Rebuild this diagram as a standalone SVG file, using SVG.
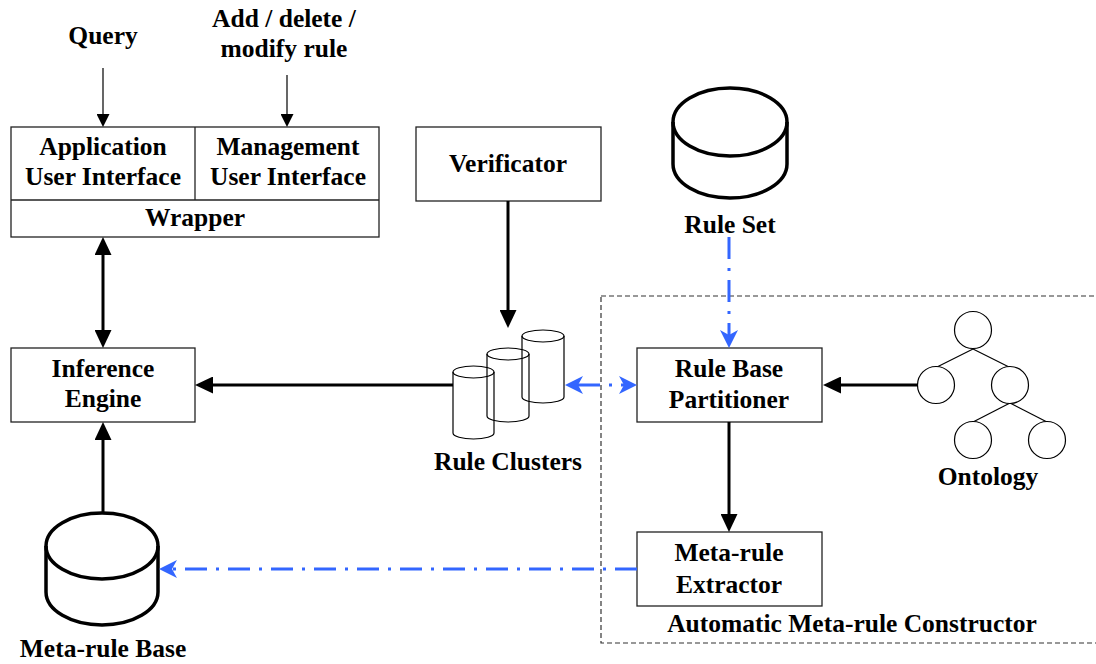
<svg xmlns="http://www.w3.org/2000/svg" width="1096" height="664" viewBox="0 0 1096 664">
  <style>
    .box { fill: #fff; stroke: #222; stroke-width: 1.3; }
    .lbl { font-family: "Liberation Serif", "Times New Roman", serif; font-weight: bold; font-size: 25.5px; fill: #000; text-anchor: middle; }
    .thin { stroke: #000; stroke-width: 1.2; fill: none; }
    .thick { stroke: #000; stroke-width: 3; fill: none; }
    .blue { stroke: #3366ff; stroke-width: 3; fill: none; stroke-dasharray: 22 9 3 9; }
    .db { fill: none; stroke: #000; stroke-width: 3.5; }
    .cl { fill: none; stroke: #000; stroke-width: 1.2; }
    .tree { fill: #fff; stroke: #000; stroke-width: 1.2; }
  </style>
  <defs>
    <marker id="ah" markerUnits="userSpaceOnUse" markerWidth="18" markerHeight="17" refX="0" refY="8.5" orient="auto-start-reverse">
      <path d="M0,0 L18,8.5 L0,17 z" fill="#000"/>
    </marker>
    <marker id="ahs" markerUnits="userSpaceOnUse" markerWidth="13" markerHeight="13" refX="0" refY="6.5" orient="auto-start-reverse">
      <path d="M0,0 L13,6.5 L0,13 z" fill="#000"/>
    </marker>
    <marker id="ahb" markerUnits="userSpaceOnUse" markerWidth="18" markerHeight="18" refX="5" refY="9" orient="auto-start-reverse">
      <path d="M0,0 L18,9 L0,18 L5,9 z" fill="#3366ff"/>
    </marker>
  </defs>

  <!-- Automatic Meta-rule Constructor boundary -->
  <g id="constructor">
    <rect x="601" y="296" width="520" height="347" fill="none" stroke="#333" stroke-width="1.2" stroke-dasharray="5 3"/>
    <text class="lbl" x="852" y="632">Automatic Meta-rule Constructor</text>
  </g>

  <!-- input labels -->
  <g id="query">
    <text class="lbl" x="103" y="44">Query</text>
  </g>
  <g id="modify">
    <text class="lbl" x="284" y="27">Add / delete /</text>
    <text class="lbl" x="284" y="57">modify rule</text>
  </g>

  <!-- user interfaces and wrapper -->
  <g id="ui">
    <rect class="box" x="11" y="127" width="368" height="110"/>
    <line x1="195" y1="127" x2="195" y2="200" stroke="#222" stroke-width="1.3"/>
    <line x1="11" y1="200" x2="379" y2="200" stroke="#222" stroke-width="1.3"/>
    <text class="lbl" x="103" y="155">Application</text>
    <text class="lbl" x="103" y="185">User Interface</text>
    <text class="lbl" x="288" y="155">Management</text>
    <text class="lbl" x="288" y="185">User Interface</text>
    <text class="lbl" x="195" y="226">Wrapper</text>
  </g>

  <g id="verificator">
    <rect class="box" x="416" y="127" width="185" height="74"/>
    <text class="lbl" x="508" y="172">Verificator</text>
  </g>

  <g id="inference">
    <rect class="box" x="11" y="348" width="184" height="74"/>
    <text class="lbl" x="103" y="377">Inference</text>
    <text class="lbl" x="103" y="407">Engine</text>
  </g>

  <g id="rule-set">
    <ellipse class="db" cx="730" cy="122" rx="57" ry="34"/>
    <path class="db" d="M673,122 L673,164 A57,34 0 0 0 787,164 L787,122"/>
    <text class="lbl" x="730" y="233">Rule Set</text>
  </g>

  <g id="rule-clusters">
    <ellipse class="cl" cx="543" cy="336" rx="21" ry="6"/>
    <path class="cl" d="M522,336 L522,397 A21,6 0 0 0 564,397 L564,336"/>
    <ellipse class="cl" cx="508" cy="354" rx="21" ry="6"/>
    <path class="cl" d="M487,354 L487,416 A21,6 0 0 0 529,416 L529,354"/>
    <ellipse class="cl" cx="473.5" cy="372" rx="20.5" ry="6"/>
    <path class="cl" d="M453,372 L453,433 A20.5,6 0 0 0 494,433 L494,372"/>
    <text class="lbl" x="508" y="470">Rule Clusters</text>
  </g>

  <g id="partitioner">
    <rect class="box" x="637" y="348" width="185" height="74"/>
    <text class="lbl" x="729" y="377">Rule Base</text>
    <text class="lbl" x="729" y="408">Partitioner</text>
  </g>

  <g id="ontology">
    <line class="thin" x1="973" y1="349" x2="937" y2="367"/>
    <line class="thin" x1="973" y1="349" x2="1009" y2="367"/>
    <line class="thin" x1="1010" y1="403" x2="973" y2="422"/>
    <line class="thin" x1="1010" y1="403" x2="1047" y2="422"/>
    <circle class="tree" cx="973" cy="330" r="18.5"/>
    <circle class="tree" cx="936" cy="385" r="18.5"/>
    <circle class="tree" cx="1010" cy="385" r="18.5"/>
    <circle class="tree" cx="973" cy="440" r="18.5"/>
    <circle class="tree" cx="1047" cy="440" r="18.5"/>
    <text class="lbl" x="988" y="485">Ontology</text>
  </g>

  <g id="extractor">
    <rect class="box" x="637" y="532" width="185" height="74"/>
    <text class="lbl" x="729" y="561">Meta-rule</text>
    <text class="lbl" x="729" y="593">Extractor</text>
  </g>

  <g id="meta-rule-base">
    <ellipse class="db" cx="102" cy="546" rx="56" ry="33"/>
    <path class="db" d="M46,546 L46,592 A56,33 0 0 0 158,592 L158,546"/>
    <text class="lbl" x="103" y="657">Meta-rule Base</text>
  </g>

  <!-- connectors -->
  <g id="connectors">
    <line class="thin" x1="103" y1="68" x2="103" y2="114" marker-end="url(#ahs)"/>
    <line class="thin" x1="287" y1="75" x2="287" y2="114" marker-end="url(#ahs)"/>
    <line class="thick" x1="103" y1="255" x2="103" y2="330" marker-start="url(#ah)" marker-end="url(#ah)"/>
    <line class="thick" x1="508" y1="201" x2="508" y2="310" marker-end="url(#ah)"/>
    <line class="thick" x1="453" y1="385" x2="213" y2="385" marker-end="url(#ah)"/>
    <line class="thick" x1="103" y1="513" x2="103" y2="440" marker-end="url(#ah)"/>
    <line class="thick" x1="918" y1="385" x2="841" y2="385" marker-end="url(#ah)"/>
    <line class="thick" x1="729" y1="422" x2="729" y2="514" marker-end="url(#ah)"/>
    <line class="blue" x1="729" y1="237" x2="729" y2="335" marker-end="url(#ahb)"/>
    <line class="blue" x1="637" y1="569" x2="172" y2="569" marker-end="url(#ahb)"/>
    <line class="blue" x1="578" y1="385" x2="624" y2="385" stroke-dasharray="0 7 3 12 30 0" marker-start="url(#ahb)" marker-end="url(#ahb)"/>
  </g>
</svg>
